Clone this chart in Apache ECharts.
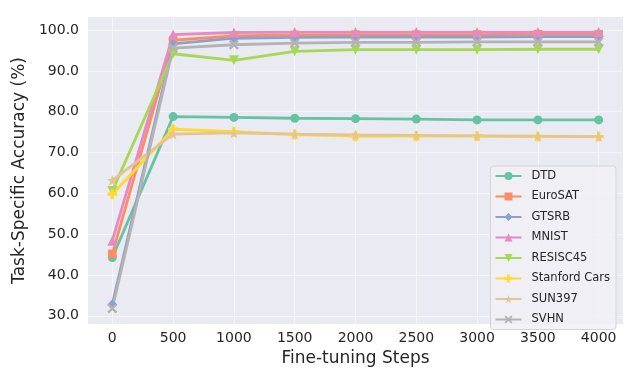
<!DOCTYPE html>
<html>
<head>
<meta charset="utf-8">
<script src="https://cdn.jsdelivr.net/npm/echarts@6/dist/echarts.min.js"></script>
<style>
  html, body { margin: 0; padding: 0; background: #fff; }
  #main { width: 640px; height: 384px; }
</style>
</head>
<body>
<div id="main"></div>
<script>
// fine-tuning steps on the x axis
var steps = [0, 500, 1000, 1500, 2000, 2500, 3000, 3500, 4000];
var yTicks = [30, 40, 50, 60, 70, 80, 90, 100];

// task-specific accuracy (%) per dataset
var dtd = [44.3, 78.8, 78.6, 78.4, 78.3, 78.2, 78.0, 78.0, 78.0];
var eurosat = [45.2, 97.5, 98.6, 98.8, 98.9, 98.9, 98.9, 99.0, 99.0];
var gtsrb = [32.8, 96.6, 98.0, 98.2, 98.3, 98.3, 98.3, 98.4, 98.4];
var mnist = [48.4, 98.9, 99.4, 99.5, 99.5, 99.5, 99.5, 99.5, 99.5];
var resisc45 = [60.6, 94.2, 92.6, 94.8, 95.2, 95.2, 95.2, 95.3, 95.3];
var stanfordCars = [59.8, 75.7, 75.1, 74.4, 74.0, 74.0, 74.0, 73.9, 73.9];
var sun397 = [63.2, 74.5, 74.8, 74.5, 74.3, 74.2, 74.1, 74.0, 73.9];
var svhn = [31.8, 95.6, 96.4, 96.8, 97.0, 97.0, 97.1, 97.1, 97.1];

var names = ['DTD', 'EuroSAT', 'GTSRB', 'MNIST', 'RESISC45', 'Stanford Cars', 'SUN397', 'SVHN'];
var values = [dtd, eurosat, gtsrb, mnist, resisc45, stanfordCars, sun397, svhn];
var colors = ['#66c2a5', '#fc8d62', '#8da0cb', '#e78ac3', '#a6d854', '#ffd92f', '#e5c494', '#b3b3b3'];

var plusPath = 'path://M2,0 H4 V2 H6 V4 H4 V6 H2 V4 H0 V2 H2 Z';
var starPath = 'path://M50,0 L61.8,35.4 L99,35.4 L69,57.3 L80.4,92.7 L50,70.8 L19.6,92.7 L31,57.3 L1,35.4 L38.2,35.4 Z';
var xPath = 'path://M1,0 L3,2 L5,0 L6,1 L4,3 L6,5 L5,6 L3,4 L1,6 L0,5 L2,3 L0,1 Z';
var symbols = ['circle', 'rect', 'diamond', 'triangle', 'triangle', plusPath, starPath, xPath];
var symbolSizes = [9, 8.5, 10, 10, 10, 10, 11, 10];

var chart = echarts.init(document.getElementById('main'), null, { renderer: 'canvas' });

var series = names.map(function (name, i) {
  return {
    name: name,
    type: 'line',
    data: steps.map(function (s, j) { return [s, values[i][j]]; }),
    symbol: symbols[i],
    symbolSize: symbolSizes[i],
    symbolRotate: i === 4 ? 180 : 0,
    showAllSymbol: true,
    color: colors[i],
    lineStyle: { width: 2.8, color: colors[i] },
    itemStyle: { color: colors[i] },
    emphasis: { disabled: true },
    clip: false
  };
});

var option = {
  animation: false,
  textStyle: { fontFamily: 'DejaVu Sans' },
  grid: {
    left: 88, right: 17, top: 17, bottom: 60,
    show: true, backgroundColor: '#eaeaf2', borderWidth: 0
  },
  xAxis: {
    type: 'value',
    min: -200, max: 4200,
    name: 'Fine-tuning Steps',
    nameLocation: 'middle',
    nameGap: 20,
    nameTextStyle: { fontSize: 17, color: '#262626' },
    axisLine: { show: false },
    axisTick: { show: false, customValues: steps },
    axisLabel: {
      customValues: steps, fontSize: 14, color: '#262626', margin: 7,
      formatter: function (v) { return String(v); }
    },
    splitLine: { show: true, lineStyle: { color: '#f6f6f9', width: 1 } }
  },
  yAxis: {
    type: 'value',
    min: 28, max: 103.2,
    name: 'Task-Specific Accuracy (%)',
    nameLocation: 'middle',
    nameGap: 52,
    nameTextStyle: { fontSize: 17, color: '#262626' },
    axisLine: { show: false },
    axisTick: { show: false, customValues: yTicks },
    axisLabel: {
      customValues: yTicks, fontSize: 14, color: '#262626', margin: 9,
      formatter: function (v) { return v.toFixed(1); }
    },
    splitLine: { show: true, lineStyle: { color: '#f6f6f9', width: 1 } }
  },
  legend: {
    data: names,
    orient: 'vertical',
    right: 24,
    top: 166,
    padding: [4, 6, 4, 4],
    itemWidth: 26,
    itemHeight: 10,
    itemGap: 8.5,
    backgroundColor: 'rgba(240,240,245,0.8)',
    borderColor: '#d4d4d8',
    borderWidth: 1,
    borderRadius: 3,
    textStyle: { fontSize: 11.5, color: '#262626', padding: [0, 0, 0, 5] }
  },
  series: series
};

chart.setOption(option);
</script>
</body>
</html>
